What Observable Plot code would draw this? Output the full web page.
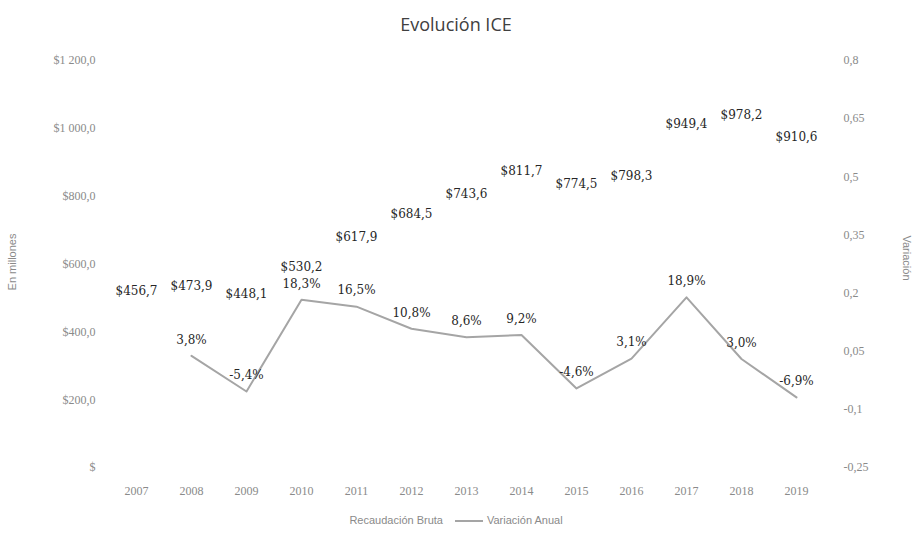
<!DOCTYPE html>
<html><head><meta charset="utf-8">
<script src="https://cdn.jsdelivr.net/npm/d3@7"></script>
<script src="https://cdn.jsdelivr.net/npm/@observablehq/plot@0.6"></script>
<style>
body{margin:0;background:#fff;width:912px;height:534px;overflow:hidden;position:relative;font-family:"Open Sans",sans-serif;}
#title{height:40px;line-height:48px;text-align:center;font-size:18px;color:#404040;}
#chart{height:465px;}
#legend{position:absolute;left:0;top:514px;width:912px;text-align:center;font-family:"Liberation Sans",sans-serif;font-size:11px;color:#8a8a8a;}
#legend .sw{display:inline-block;width:28px;height:2px;background:#a5a5a5;vertical-align:middle;margin:0 4px 0 12px;}
.ytitle{position:absolute;font-family:"Liberation Sans",sans-serif;font-size:11px;color:#8a8a8a;white-space:nowrap;}
</style></head><body>
<div id="title">Evolución ICE</div>
<div id="chart"></div>
<div id="legend"><span>Recaudación Bruta</span><span class="sw"></span><span>Variación Anual</span></div>
<div class="ytitle" style="left:12px;top:262px;transform:translate(-50%,-50%) rotate(-90deg);">En millones</div>
<div class="ytitle" style="left:907px;top:258px;transform:translate(-50%,-50%) rotate(90deg);">Variación</div>
<script>
const years = ["2007","2008","2009","2010","2011","2012","2013","2014","2015","2016","2017","2018","2019"];
const recaudacion = [456.7, 473.9, 448.1, 530.2, 617.9, 684.5, 743.6, 811.7, 774.5, 798.3, 949.4, 978.2, 910.6];
const variacion = [null, 0.038, -0.054, 0.183, 0.165, 0.108, 0.086, 0.092, -0.046, 0.031, 0.189, 0.030, -0.069];
const leftTicks = [0, 200, 400, 600, 800, 1000, 1200];
const rightTicks = [-0.25, -0.1, 0.05, 0.2, 0.35, 0.5, 0.65, 0.8];

const rMin = -0.25, rMax = 0.8, lMax = 1200;
const toLeft = p => (p - rMin) / (rMax - rMin) * lMax;
const fromLeft = v => Math.round((v / lMax * (rMax - rMin) + rMin) * 100) / 100;

const comma = s => s.replace(".", ",");
const fmtLeft = d => d === 0 ? "$" : "$" + d3.format(",.1f")(d).replace(/,/g, " ").replace(/\.(\d)$/, ",$1");
const fmtRight = v => comma(String(fromLeft(v)));

const rec = years.map((y, i) => ({year: y, value: recaudacion[i]}));
const vari = years.map((y, i) => ({year: y, value: variacion[i]})).filter(d => d.value !== null);

const chart = Plot.plot({
  width: 912,
  height: 465,
  marginTop: 20,
  marginBottom: 38,
  marginLeft: 103,
  marginRight: 83,
  style: {fontFamily: "Liberation Serif, serif", fontSize: "12px", color: "#8a8a8a", background: "#fff"},
  x: {type: "point", domain: years, padding: 0.5},
  y: {domain: [0, lMax]},
  marks: [
    Plot.axisX({tickSize: 0, tickPadding: 19, label: null, fill: "#8a8a8a"}),
    Plot.axisY(leftTicks, {anchor: "left", tickSize: 0, tickPadding: 8, tickFormat: fmtLeft, label: null, fill: "#8a8a8a"}),
    Plot.axisY(rightTicks.map(toLeft), {anchor: "right", tickSize: 0, tickPadding: 14, tickFormat: fmtRight, label: null, fill: "#8a8a8a", textAnchor: "start"}),
    Plot.line(vari, {x: "year", y: d => toLeft(d.value), stroke: "#a5a5a5", strokeWidth: 2}),
    Plot.text(rec, {x: "year", y: "value", dy: -21, text: d => "$" + comma(d.value.toFixed(1)),
      fontFamily: "DejaVu Serif, serif", fontSize: 12, fill: "#262626"}),
    Plot.text(vari, {x: "year", y: d => toLeft(d.value), dy: -16, text: d => comma((d.value * 100).toFixed(1)) + "%",
      fontFamily: "DejaVu Serif, serif", fontSize: 12, fill: "#262626"})
  ]
});
document.getElementById("chart").appendChild(chart);
</script>
</body></html>
